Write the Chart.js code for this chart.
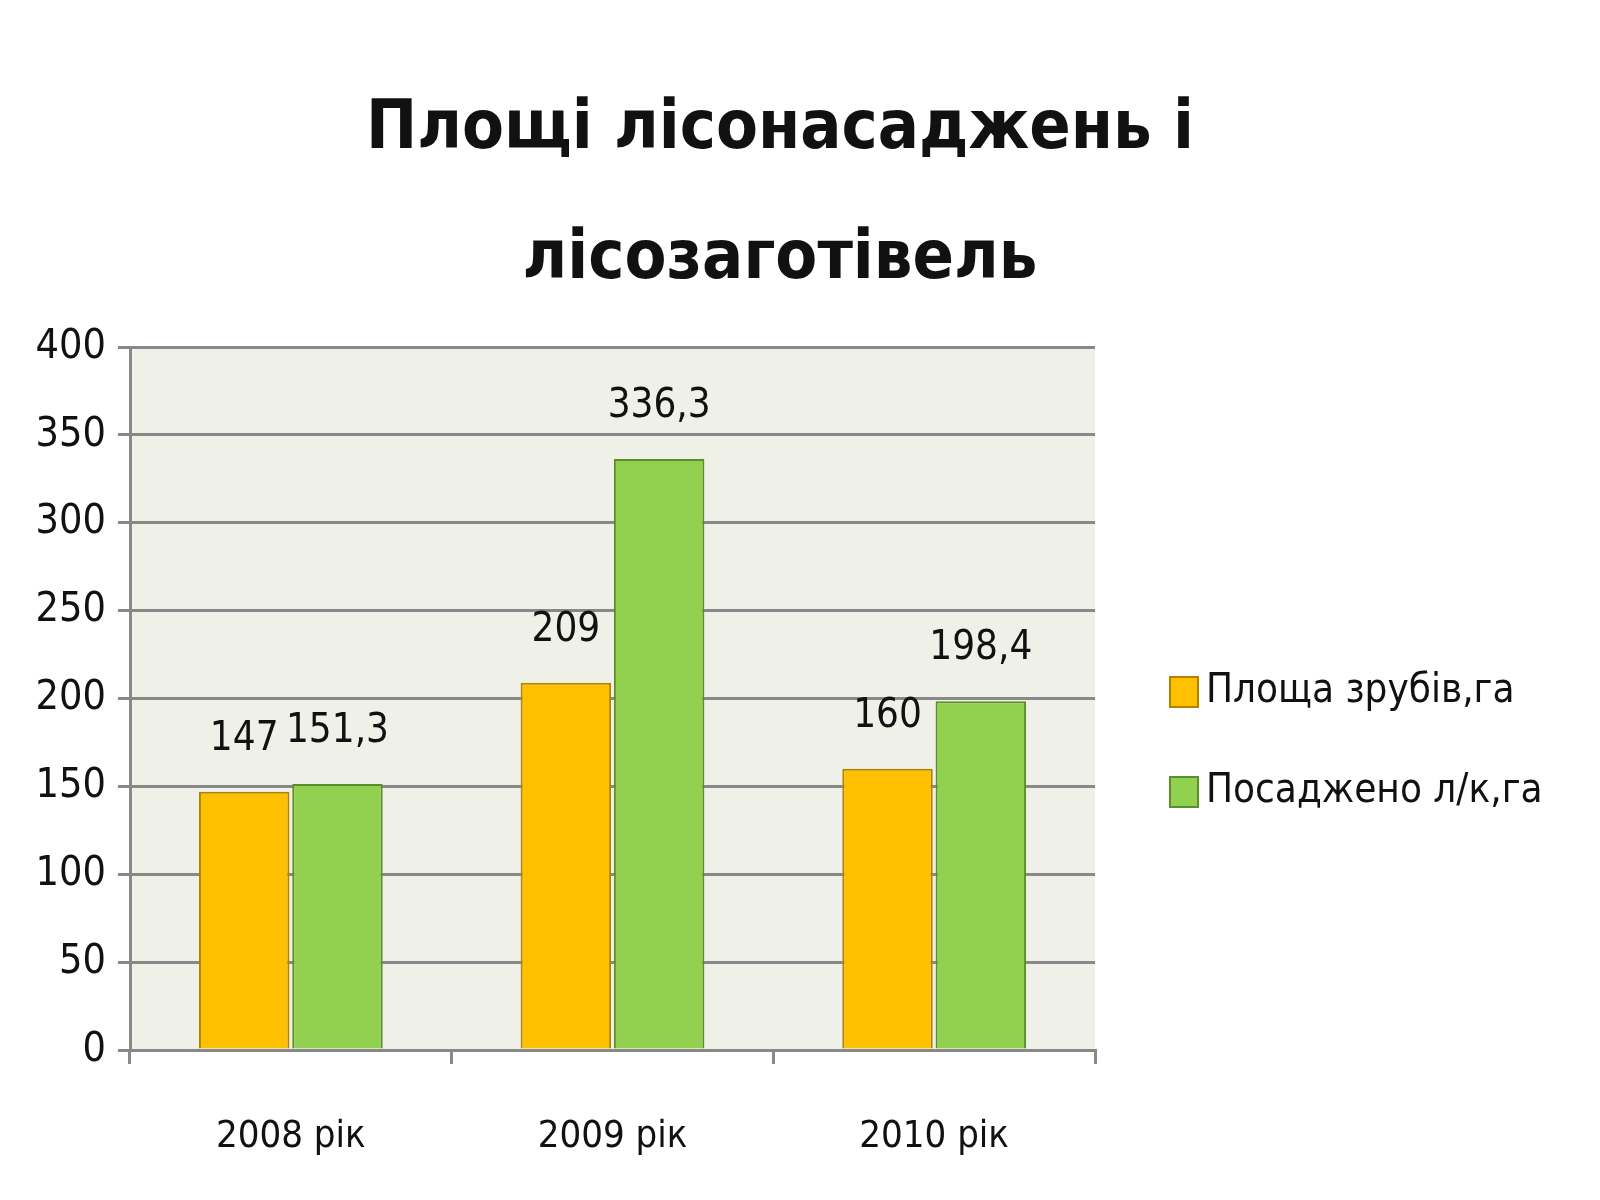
<!DOCTYPE html>
<html><head><meta charset="utf-8">
<script src="https://cdn.jsdelivr.net/npm/chart.js@4"></script>
<style>html,body{margin:0;background:#fff}#w{width:1600px;height:1200px}</style>
</head><body><div id="w"><canvas id="c"></canvas></div>
<script>
const categories = ["2008 рік", "2009 рік", "2010 рік"];
const seriesNames = ["Площа зрубів,га", "Посаджено л/к,га"];
const cutArea = [147, 209, 160];
const planted = [151.3, 336.3, 198.4];
const titleLines = ["Площі лісонасаджень і", "лісозаготівель"];
const colors = ["#FFC000", "#92D050"];
const borders = ["#B08400", "#5E8E2A"];
const fmt = v => String(v).replace('.', ',');
const FF = '"DejaVu Sans Condensed", "Open Sans", sans-serif';

const deco = {
  id: 'deco',
  beforeDraw(ch) {
    const {ctx, chartArea: a} = ch;
    ctx.save(); ctx.fillStyle = '#eff1e8'; ctx.fillRect(a.left, a.top, a.right - a.left, a.bottom - a.top); ctx.restore();
  },
  afterDatasetsDraw(ch) {
    const ctx = ch.ctx;
    ctx.save();
    ctx.fillStyle = '#111'; ctx.textAlign = 'center'; ctx.textBaseline = 'alphabetic';
    ctx.font = '40px ' + FF;
    ch.data.datasets.forEach((ds, i) => {
      ch.getDatasetMeta(i).data.forEach((b, j) => {
        ctx.fillText(fmt(ds.data[j]), b.x, b.y - 42);
      });
    });
    ctx.font = 'bold 68px ' + FF;
    ctx.fillText(titleLines[0], 780, 148);
    ctx.fillText(titleLines[1], 780, 278);
    ctx.textAlign = 'left'; ctx.textBaseline = 'middle';
    ctx.font = '40px ' + FF;
    seriesNames.forEach((n, i) => {
      const y = 692 + i * 100;
      ctx.fillStyle = colors[i]; ctx.strokeStyle = borders[i]; ctx.lineWidth = 2;
      ctx.fillRect(1170, y - 15, 28, 30); ctx.strokeRect(1170, y - 15, 28, 30);
      ctx.fillStyle = '#111'; ctx.fillText(n, 1206, y);
    });
    ctx.restore();
  }
};

new Chart(document.getElementById('c'), {
  type: 'bar',
  data: {
    labels: categories,
    datasets: [
      {label: seriesNames[0], data: cutArea, backgroundColor: colors[0], borderColor: borders[0], borderWidth: 2},
      {label: seriesNames[1], data: planted, backgroundColor: colors[1], borderColor: borders[1], borderWidth: 2}
    ]
  },
  options: {
    responsive: true, maintainAspectRatio: false, animation: false,
    layout: {padding: {top: 347, right: 505, left: 0, bottom: 0}},
    plugins: {legend: {display: false}, title: {display: false}, tooltip: {enabled: false}},
    datasets: {bar: {categoryPercentage: 0.58, barPercentage: 0.97}},
    scales: {
      x: {
        afterFit: s => { s.height = 150; },
        grid: {offset: true, drawOnChartArea: false, drawTicks: true, tickLength: 14, color: '#888', lineWidth: 3},
        border: {color: '#888', width: 3},
        ticks: {color: '#111', padding: 50, font: {size: 38, family: FF}}
      },
      y: {
        min: 0, max: 400,
        afterFit: s => { s.width = 130; },
        ticks: {stepSize: 50, color: '#111', padding: 12, font: {size: 41, family: FF}},
        grid: {color: '#888', lineWidth: 3, tickLength: 12},
        border: {color: '#888', width: 3}
      }
    }
  },
  plugins: [deco]
});
</script></body></html>
